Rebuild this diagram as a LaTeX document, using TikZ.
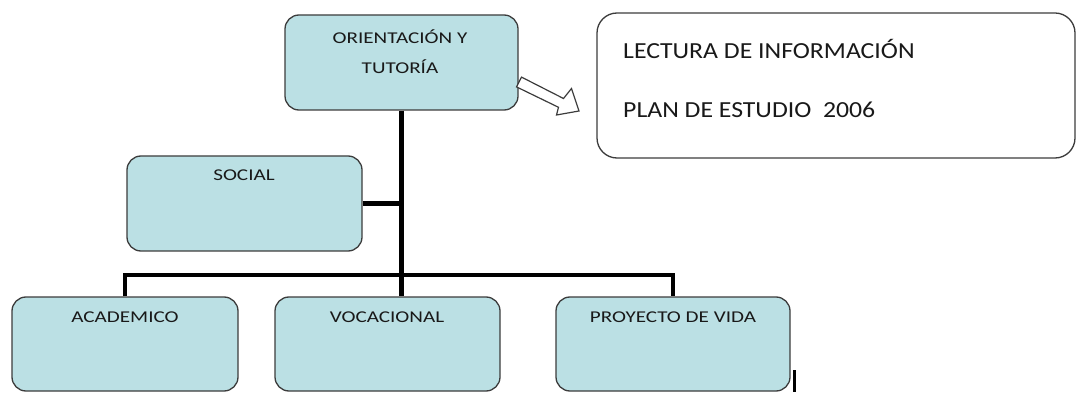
\documentclass[tikz,border=0pt]{standalone}
\usepackage{fontspec}
\setmainfont{Carlito}
\newfontfamily\boxfont[FakeStretch=1.28]{Carlito}
\newfontfamily\bigfont[FakeStretch=1.12]{Carlito}
\definecolor{boxfill}{RGB}{187,224,228}
\definecolor{boxline}{RGB}{60,60,60}
\tikzset{
  bluebox/.style={draw=boxline, line width=1.3pt, fill=boxfill, rounded corners=14pt, inner sep=0pt},
  whitebox/.style={draw=boxline, line width=1.3pt, fill=white, rounded corners=20pt, inner sep=0pt},
  boxtext/.style={font=\boxfont\fontsize{16.5}{19}\selectfont, text=black!90, inner sep=0pt},
  bigtext/.style={font=\bigfont\fontsize{23}{27}\selectfont, text=black!90, inner sep=0pt, anchor=west},
  conn/.style={line width=4.5pt, black},
  hollow/.style={draw=boxline, line width=1.2pt, fill=white, line join=miter}
}
\begin{document}
\begin{tikzpicture}[x=1pt,y=-1pt]
\useasboundingbox (0,0) rectangle (1079,398);
% boxes
\node[bluebox, minimum width=233pt, minimum height=95pt] (orient) at (401.5,62.5) {};
\node[whitebox, minimum width=478pt, minimum height=145pt] (info) at (836,85.5) {};
\node[bluebox, minimum width=235pt, minimum height=95pt] (social) at (244.5,203.5) {};
\node[bluebox, minimum width=226pt, minimum height=94pt] (acad) at (125,344) {};
\node[bluebox, minimum width=225pt, minimum height=94pt] (voc) at (387.5,344) {};
\node[bluebox, minimum width=234pt, minimum height=94pt] (proj) at (673,344) {};
% texts
\node[boxtext] (t1) at (400,37) {ORIENTACIÓN Y};
\node[boxtext] (t2) at (400,67) {TUTORÍA};
\node[boxtext] (t3) at (244,175) {SOCIAL};
\node[boxtext] (t4) at (125,317) {ACADEMICO};
\node[boxtext] (t5) at (387,317) {VOCACIONAL};
\node[boxtext] (t6) at (673,317) {PROYECTO DE VIDA};
\node[bigtext] (t7) at (623,49) {LECTURA DE INFORMACIÓN};
\node[bigtext] (t8) at (623,110) {PLAN DE ESTUDIO\ \ 2006};
% hollow block arrow
\draw[hollow] (521.5,77.1) -- (563.5,98.5) -- (571.5,88.5) -- (579,111)
  -- (556.5,115) -- (558.5,107.3) -- (516.5,86.9) -- cycle;
% connectors
\coordinate (bar) at (401.5,275);
\draw[conn] (orient.south) -- (orient.south |- voc.north);
\draw[conn] (social.east) -- (social.east -| orient.south);
\draw[conn] (acad.north) -- (acad.north |- bar) -- (proj.north |- bar) -- (proj.north);
% stray mark
\coordinate (m1) at (794.5,370);
\coordinate (m2) at (794.5,392);
\draw[line width=3pt, black] (m1) -- (m2);
\end{tikzpicture}
\end{document}
